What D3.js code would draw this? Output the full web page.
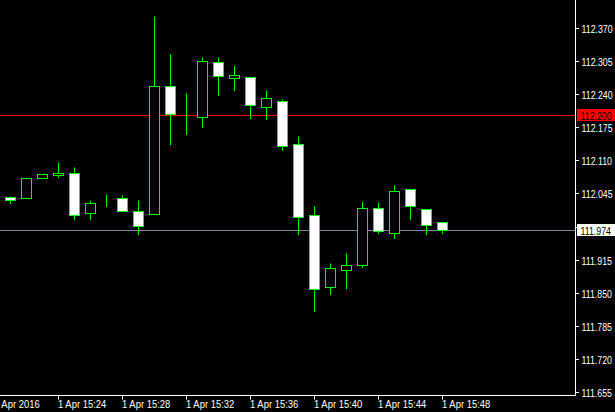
<!DOCTYPE html>
<html>

<head>
  <meta charset="utf-8">
  <title>USDJPY M1</title>
  <style>
    body {
      margin: 0;
      background: #000;
    }

    svg {
      display: block;
    }

    text {
      font-family: "Liberation Sans", sans-serif;
      font-size: 11px;
      fill: #fff;
    }
  </style>
</head>

<body>
  <svg width="615" height="412"></svg>

  <script src="https://d3js.org/d3.v7.min.js"></script>
  <script>
    // Dados das velas (1 Apr 2016, M1)
    var times = ["15:21", "15:22", "15:23", "15:24", "15:25", "15:26", "15:27", "15:28", "15:29", "15:30",
      "15:31", "15:32", "15:33", "15:34", "15:35", "15:36", "15:37", "15:38", "15:39", "15:40",
      "15:41", "15:42", "15:43", "15:44", "15:45", "15:46", "15:47", "15:48"];
    var open = [112.038, 112.036, 112.075, 112.081, 112.085, 112.007, 112.033, 112.036, 112.010, 112.005,
      112.256, 112.197, 112.195, 112.303, 112.272, 112.274, 112.215, 112.227, 112.142, 112.003,
      111.861, 111.895, 111.904, 112.016, 111.967, 112.054, 112.014, 111.989];
    var high = [112.040, 112.075, 112.083, 112.107, 112.097, 112.032, 112.044, 112.042, 112.032, 112.394,
      112.319, 112.242, 112.313, 112.313, 112.297, 112.274, 112.248, 112.231, 112.158, 112.020,
      111.908, 111.928, 112.030, 112.028, 112.062, 112.054, 112.014, 111.989];
    var low = [112.026, 112.036, 112.075, 112.077, 111.995, 111.995, 112.020, 112.010, 111.965, 112.005,
      112.142, 112.162, 112.176, 112.238, 112.248, 112.193, 112.191, 112.130, 111.965, 111.814,
      111.848, 111.859, 111.900, 111.967, 111.958, 111.995, 111.965, 111.967];
    var close = [112.032, 112.075, 112.083, 112.085, 112.003, 112.026, 112.032, 112.010, 111.981, 112.256,
      112.201, 112.197, 112.305, 112.276, 112.278, 112.219, 112.233, 112.138, 111.999, 111.857,
      111.899, 111.904, 112.016, 111.971, 112.050, 112.020, 111.983, 111.974];

    // Eixos
    var priceTicks = [112.370, 112.305, 112.240, 112.175, 112.110, 112.045, 111.980, 111.915, 111.850, 111.785, 111.720, 111.655];
    var timeTicks = ["15:20", "15:24", "15:28", "15:32", "15:36", "15:40", "15:44", "15:48"];
    var timeLabels = ["1 Apr 2016", "1 Apr 15:24", "1 Apr 15:28", "1 Apr 15:32", "1 Apr 15:36", "1 Apr 15:40", "1 Apr 15:44", "1 Apr 15:48"];
    var levelPrice = 112.200;
    var lastPrice = 111.974;

    var parse = d3.timeParse("%H:%M");
    var candles = times.map(function (t, i) {
      return { t: parse(t), o: open[i], h: high[i], l: low[i], c: close[i] };
    });

    var plotRight = 575.5, plotBottom = 395.5;

    var x = d3.scaleTime()
      .domain([parse(times[0]), parse(times[times.length - 1])])
      .range([10.5, 442.5]);

    var y = d3.scaleLinear()
      .domain([111.655, 112.370])
      .range([392.5, 28.5]);

    // arredondar para o centro do pixel
    function py(p) { return Math.round(y(p) - 0.5) + 0.5; }

    var svg = d3.select("svg");

    // Linha de nível (vermelha) e linha do preço atual
    svg.append("line")
      .attr("x1", 0).attr("x2", plotRight)
      .attr("y1", py(levelPrice)).attr("y2", py(levelPrice))
      .attr("stroke", "#ff0000");

    svg.append("line")
      .attr("x1", 0).attr("x2", plotRight)
      .attr("y1", py(lastPrice)).attr("y2", py(lastPrice))
      .attr("stroke", "#778899");

    // Velas
    var g = svg.append("g");
    var candle = g.selectAll(".candle")
      .data(candles)
      .enter().append("g")
      .attr("class", "candle");

    candle.append("line")
      .attr("x1", function (d) { return x(d.t); })
      .attr("x2", function (d) { return x(d.t); })
      .attr("y1", function (d) { return py(d.h); })
      .attr("y2", function (d) { return py(d.l) + 0.5; })
      .attr("stroke", "#00ff00");

    candle.append("rect")
      .attr("x", function (d) { return x(d.t) - 5; })
      .attr("width", 10)
      .attr("y", function (d) { return py(Math.max(d.o, d.c)); })
      .attr("height", function (d) { return py(Math.min(d.o, d.c)) - py(Math.max(d.o, d.c)); })
      .attr("fill", function (d) { return d.c < d.o ? "#fff" : "#000"; })
      .attr("stroke", "#00ff00");

    // Eixo de preço (direita)
    svg.append("line")
      .attr("x1", plotRight).attr("x2", plotRight)
      .attr("y1", 0).attr("y2", plotBottom)
      .attr("stroke", "#fff");

    var yAxis = svg.append("g").selectAll(".ptick")
      .data(priceTicks)
      .enter().append("g")
      .attr("class", "ptick")
      .attr("transform", function (d) { return "translate(0," + py(d) + ")"; });

    yAxis.append("line")
      .attr("x1", plotRight + 0.5).attr("x2", plotRight + 3.5)
      .attr("stroke", "#fff");

    yAxis.append("text")
      .attr("transform", "translate(581.5,4) scale(0.8,1)")
      .text(function (d) { return d.toFixed(3); });

    // Etiquetas de preço
    function priceLabel(p, bg, fg) {
      var yy = py(p);
      svg.append("rect")
        .attr("x", 577).attr("y", yy - 6.5)
        .attr("width", 38).attr("height", 12)
        .attr("fill", bg);
      svg.append("text")
        .attr("transform", "translate(580.5," + (yy + 4) + ") scale(0.8,1)")
        .style("fill", fg)
        .text(p.toFixed(3));
    }
    priceLabel(levelPrice, "#ff0000", "#000");
    priceLabel(lastPrice, "#fff", "#000");

    // Eixo de tempo (baixo)
    svg.append("line")
      .attr("x1", 0).attr("x2", plotRight)
      .attr("y1", plotBottom).attr("y2", plotBottom)
      .attr("stroke", "#fff");

    var xAxis = svg.append("g").selectAll(".ttick")
      .data(timeTicks)
      .enter().append("g")
      .attr("class", "ttick")
      .attr("transform", function (d) { return "translate(" + x(parse(d)) + ",0)"; });

    xAxis.append("line")
      .attr("y1", plotBottom).attr("y2", plotBottom + 4)
      .attr("stroke", "#fff");

    xAxis.append("text")
      .attr("transform", "translate(-0.5,407.5) scale(0.86,1)")
      .text(function (d, i) { return timeLabels[i]; });
  </script>
</body>

</html>
